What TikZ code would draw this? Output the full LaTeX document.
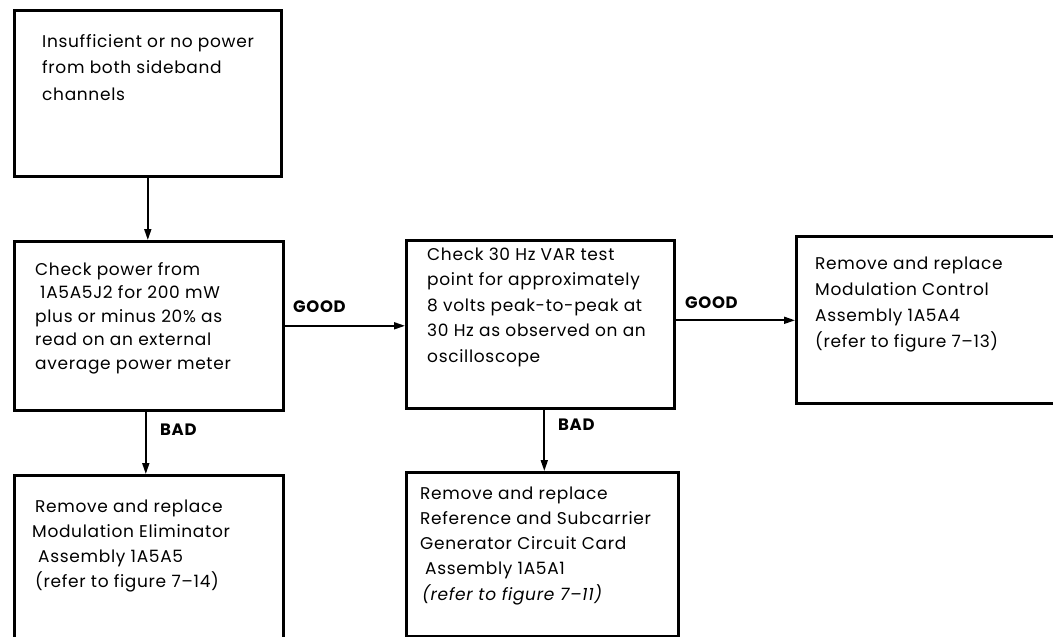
\documentclass[tikz,border=0pt]{standalone}
\usepackage{fontspec}
\setmainfont{Poppins}[LetterSpace=4]
\usetikzlibrary{arrows.meta}
\begin{document}
\begin{tikzpicture}[x=1pt,y=-1pt,
  box/.style={draw, line width=2.6pt, inner sep=0pt, anchor=north west},
  % text blocks are placed by the baseline of their last line
  txt/.style={anchor=base west, align=left, inner sep=0pt},
  lbl/.style={anchor=base west, inner sep=0pt, font=\fontsize{16.5}{18}\selectfont\bfseries},
  flow/.style={line width=1.8pt, -{Triangle[length=11pt,width=7pt]}}]
\clip (0,0) rectangle (1053,637);

% boxes
\node[box, minimum width=267pt, minimum height=166pt] (b1) at (13,9) {};
\node[box, minimum width=269pt, minimum height=169pt] (b2) at (13,240) {};
\node[box, minimum width=268pt, minimum height=168pt] (b3) at (405,239) {};
\node[box, minimum width=280pt, minimum height=167pt] (b4) at (795,235) {};
\node[box, minimum width=269pt, minimum height=180pt] (b5) at (13,474) {};
\node[box, minimum width=272pt, minimum height=164pt] (b6) at (405,471) {};

% box texts
\node[txt, font=\fontsize{17}{26.5}\selectfont] (t1) at (42,100)
  {Insufficient or no power\\from both sideband\\channels};
\node[txt, font=\fontsize{17}{23.5}\selectfont] (t2) at (35,369)
  {Check power from\\\hspace{5pt}1A5A5J2 for 200 mW\\plus or minus 20\% as\\read on an external\\average power meter};
\node[txt, font=\fontsize{17}{25.5}\selectfont] (t3) at (427,362)
  {Check 30 Hz VAR test\\point for approximately\\8 volts peak-to-peak at\\30 Hz as observed on an\\oscilloscope};
\node[txt, font=\fontsize{17}{25.7}\selectfont] (t4) at (815,347)
  {Remove and replace\\Modulation Control\\Assembly 1A5A4\\(refer to figure 7–13)};
\node[txt, font=\fontsize{17}{25}\selectfont] (t5) at (35,587)
  {Remove and replace\\\hspace{-3pt}Modulation Eliminator\\\hspace{3pt}Assembly 1A5A5\\(refer to figure 7–14)};
\node[txt, font=\fontsize{17}{25.2}\selectfont] (t6) at (420,600)
  {Remove and replace\\Reference and Subcarrier\\Generator Circuit Card\\\hspace{5pt}Assembly 1A5A1\\\hspace{2pt}\itshape(refer to figure 7–11)};

% connectors
\draw[flow] (b1.south) -- (b1.south |- b2.north);
\draw[flow] (b2.east) -- (b2.east -| b3.west);
\draw[flow] ([yshift=4pt]b3.east) -- ([yshift=4pt]b3.east -| b4.west);
\draw[flow] ([xshift=-3pt]b2.south) -- ([xshift=-3pt]b2.south |- b5.north);
\draw[flow] ([xshift=4pt]b3.south) -- ([xshift=4pt]b3.south |- b6.north);

% branch labels
\node[lbl] (g1) at (293,312) {GOOD};
\node[lbl] (g2) at (685,308) {GOOD};
\node[lbl] (d1) at (160,435) {BAD};
\node[lbl] (d2) at (558,430) {BAD};
\end{tikzpicture}
\end{document}
